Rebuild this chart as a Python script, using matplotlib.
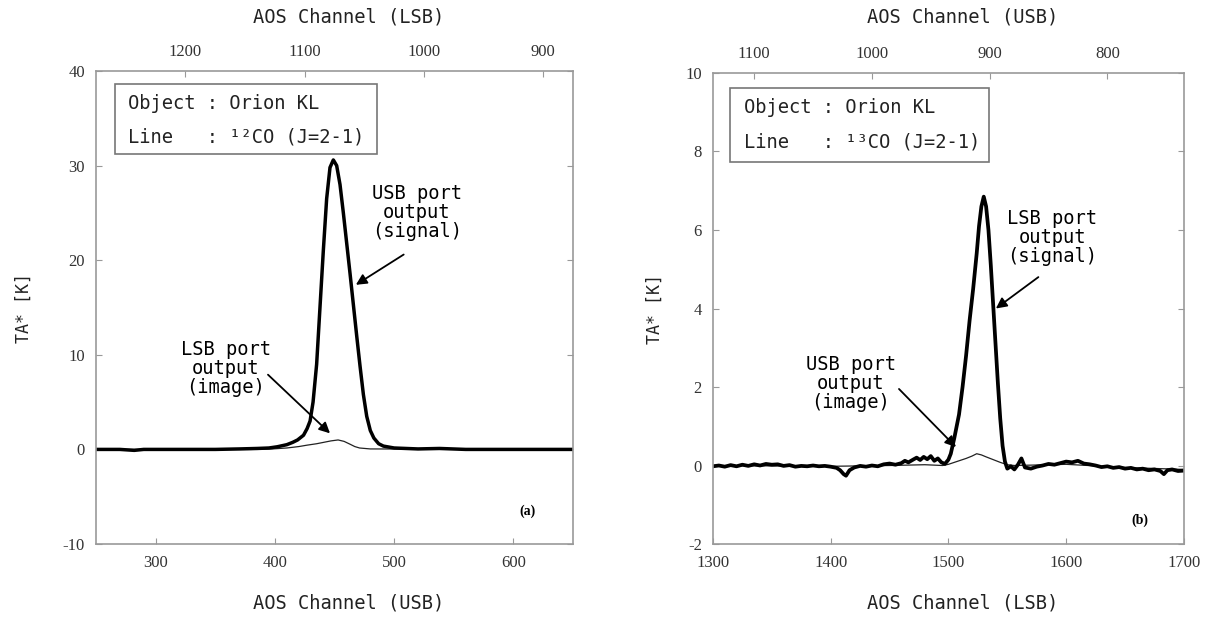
import matplotlib.pyplot as plt

plt.rcParams['axes.unicode_minus'] = False

# (a) 12CO, measured on the USB port channel scale
usb_a = [250, 270, 282, 290, 320, 350, 370, 385, 395, 402, 410, 415, 419, 424, 427,
         429.5, 432, 435, 437.8, 440.6, 443.4, 446.2, 449, 451.8, 454.6, 457.4, 460.2,
         463, 465.8, 468.6, 471.4, 474.2, 477, 480, 483, 487, 491, 500, 520, 538, 560,
         600, 650]
sig_a = [0.0, 0.0, -0.1, 0.0, 0.0, 0.0, 0.05, 0.1, 0.15, 0.28, 0.5, 0.75, 1.0, 1.5, 2.2,
         3.0, 5.0, 9.0, 15.0, 21.0, 26.5, 29.8, 30.6, 30.0, 28.0, 25.0, 21.8,
         18.6, 15.3, 12.0, 8.8, 5.8, 3.5, 2.0, 1.2, 0.6, 0.35, 0.15, 0.05, 0.1, 0.0,
         0.0, 0.0]
img_ch_a = [250, 380, 398, 410, 420, 427, 435, 441, 447, 453, 458, 463, 467, 471, 480, 650]
img_a = [0.0, 0.0, 0.05, 0.15, 0.3, 0.45, 0.6, 0.75, 0.9, 1.0, 0.85, 0.55, 0.3, 0.15, 0.05, 0.0]

# (b) 13CO, measured on the LSB port channel scale
lsb_b = [1300, 1305, 1310, 1315, 1320, 1325, 1330, 1335, 1340, 1345, 1350, 1355, 1360,
         1365, 1370, 1375, 1380, 1385, 1390, 1395, 1400, 1405, 1408, 1411, 1413, 1416,
         1420, 1425, 1430, 1435, 1440, 1445, 1450, 1455, 1460, 1463, 1466, 1470, 1473,
         1476, 1479, 1482, 1485, 1488, 1491, 1494, 1497, 1500, 1502, 1505, 1509, 1512,
         1515, 1518, 1521, 1524, 1526, 1528, 1530, 1532, 1534, 1536, 1538, 1540, 1542,
         1544, 1546, 1548, 1550, 1553, 1556, 1559, 1562, 1565, 1570, 1575, 1580, 1585,
         1590, 1595, 1600, 1605, 1610, 1615, 1620, 1625, 1630, 1635, 1640, 1645, 1650,
         1655, 1660, 1665, 1670, 1675, 1680, 1683, 1686, 1690, 1695, 1700]
sig_b = [-0.02, 0.0, -0.03, 0.01, -0.02, 0.02, -0.01, 0.03, 0.0, 0.04, 0.02, 0.03, -0.01,
         0.01, -0.03, -0.01, -0.02, 0.0, -0.02, -0.01, -0.03, -0.06, -0.12, -0.22, -0.26, -0.12,
         -0.05, -0.01, -0.03, 0.0, -0.02, 0.03, 0.05, 0.02, 0.06, 0.12, 0.08, 0.15, 0.2,
         0.14, 0.22, 0.16, 0.24, 0.12, 0.18, 0.08, 0.04, 0.15, 0.3, 0.7, 1.3, 2.0,
         2.8, 3.7, 4.5, 5.4, 6.1, 6.6, 6.85, 6.6, 6.0, 5.1, 4.1, 3.1, 2.1,
         1.2, 0.5, 0.1, -0.08, -0.02, -0.1, 0.02, 0.18, -0.05, -0.08, -0.03, 0.0, 0.04,
         0.02, 0.06, 0.1, 0.08, 0.12, 0.05, 0.03, 0.0, -0.04, -0.02, -0.06, -0.04, -0.08,
         -0.06, -0.1, -0.08, -0.12, -0.1, -0.14, -0.22, -0.12, -0.1, -0.14, -0.13]
img_ch_b = [1300, 1400, 1450, 1480, 1495, 1500, 1505, 1510, 1515, 1520, 1524, 1528, 1532,
            1538, 1544, 1550, 1556, 1600, 1650, 1700]
img_b = [0.0, -0.02, 0.0, 0.02, 0.0, 0.03, 0.08, 0.13, 0.18, 0.24, 0.3, 0.27, 0.22,
         0.15, 0.08, 0.02, 0.0, 0.03, -0.05, -0.1]

ticks_a = [300, 400, 500, 600]
top_ticks_a = [1200, 1100, 1000, 900]
ticks_b = [1300, 1400, 1500, 1600, 1700]
top_ticks_b = [1100, 1000, 900, 800]

MONO = 'DejaVu Sans Mono'
NUM = 'Liberation Serif'
GRAY = '#999999'

fig = plt.figure(figsize=(12.2, 6.17), dpi=100)
axa = fig.add_axes([0.0787, 0.1183, 0.391, 0.7666])
axb = fig.add_axes([0.5844, 0.1183, 0.386, 0.7634])


def style(ax, xlim, ylim, xt, yt, top_fn, top_ticks, bot_label, top_label, top_y):
    ax.set_xlim(*xlim)
    ax.set_ylim(*ylim)
    ax.set_xticks(xt)
    ax.set_yticks(yt)
    for s in ax.spines.values():
        s.set_color(GRAY)
        s.set_linewidth(1.2)
    ax.tick_params(direction='in', length=4, color=GRAY, right=True,
                   labelsize=12, labelcolor='#333333', pad=8)
    for lab in ax.get_xticklabels() + ax.get_yticklabels():
        lab.set_family(NUM)
    sec = ax.secondary_xaxis('top', functions=(top_fn, top_fn))
    sec.set_xticks(top_ticks)
    sec.tick_params(direction='in', length=4, color=GRAY, labelsize=12,
                    labelcolor='#333333', pad=8)
    for lab in sec.get_xticklabels():
        lab.set_family(NUM)
    sec.spines['top'].set_visible(False)
    ax.text(0.53, top_y, top_label, transform=ax.transAxes, family=MONO,
            fontsize=13.5, color='#222222', ha='center', va='center')
    ax.set_xlabel(bot_label, family=MONO, fontsize=13.5, color='#222222')
    ax.xaxis.set_label_coords(0.53, -0.105)
    ax.set_ylabel('TA* [K]', family=MONO, fontsize=12, color='#222222')


style(axa, (250, 650), (-10, 40), ticks_a, [-10, 0, 10, 20, 30, 40],
      lambda u: 1525 - u, top_ticks_a, 'AOS Channel (USB)', 'AOS Channel (LSB)', 1.114)
axa.yaxis.set_label_coords(-0.132, 0.5)
style(axb, (1300, 1700), (-2, 10), ticks_b, [-2, 0, 2, 4, 6, 8, 10],
      lambda l: 2435 - l, top_ticks_b, 'AOS Channel (LSB)', 'AOS Channel (USB)', 1.118)
axb.yaxis.set_label_coords(-0.104, 0.5)

# spectra
axa.plot(img_ch_a, img_a, color='#222222', lw=0.9)
axa.plot(usb_a, sig_a, color='black', lw=2.5)
axb.plot(img_ch_b, img_b, color='#222222', lw=0.9)
axb.plot(lsb_b, sig_b, color='black', lw=2.7)

# info boxes
for ax, rect, tx, ys, line in [
        (axa, (0.040, 0.8245, 0.549, 0.148), 0.067, (0.932, 0.860), '¹²CO (J=2-1)'),
        (axb, (0.037, 0.811, 0.549, 0.157), 0.066, (0.926, 0.853), '¹³CO (J=2-1)')]:
    ax.add_patch(plt.Rectangle(rect[:2], rect[2], rect[3], transform=ax.transAxes,
                               fill=False, edgecolor='#777777', lw=1.2))
    ax.text(tx, ys[0], 'Object : Orion KL', transform=ax.transAxes, family=MONO,
            fontsize=13.5, va='center', color='#222222')
    ax.text(tx, ys[1], 'Line   : ' + line, transform=ax.transAxes, family=MONO,
            fontsize=13.5, va='center', color='#222222')

arrow = dict(arrowstyle='-|>', color='black', lw=1.3, mutation_scale=16, shrinkA=0, shrinkB=0)
axa.annotate('', xy=(467.9, 17.4), xytext=(508, 20.6), arrowprops=arrow)
axa.text(519, 25.0, 'USB port\noutput\n(signal)', family=MONO, fontsize=13.5,
         ha='center', va='center', linespacing=1.0)
axa.annotate('', xy=(446.2, 1.7), xytext=(394.2, 7.9), arrowprops=arrow)
axa.text(358.8, 8.6, 'LSB port\noutput\n(image)', family=MONO, fontsize=13.5,
         ha='center', va='center', linespacing=1.0)
axa.text(612, -6.5, '(a)', family=NUM, fontweight='bold', fontsize=10, ha='center', va='center')

axb.annotate('', xy=(1540.3, 4.0), xytext=(1576.4, 4.8), arrowprops=arrow)
axb.text(1588, 5.8, 'LSB port\noutput\n(signal)', family=MONO, fontsize=13.5,
         ha='center', va='center', linespacing=1.0)
axb.annotate('', xy=(1506.4, 0.47), xytext=(1458, 1.95), arrowprops=arrow)
axb.text(1417, 2.1, 'USB port\noutput\n(image)', family=MONO, fontsize=13.5,
         ha='center', va='center', linespacing=1.0)
axb.text(1662.6, -1.39, '(b)', family=NUM, fontweight='bold', fontsize=10, ha='center', va='center')

fig.savefig('out.png', dpi=100)
